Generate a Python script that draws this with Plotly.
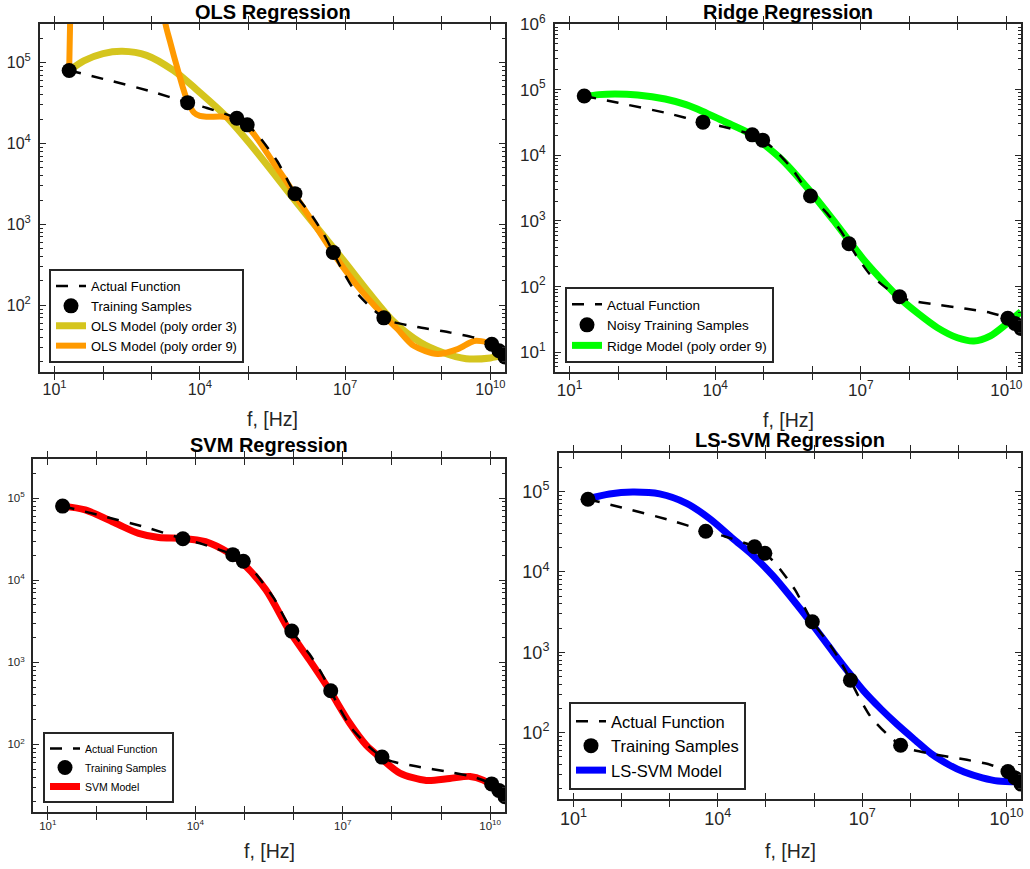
import math
import plotly.graph_objects as go

W, H = 1030, 869
FONT = "Liberation Sans, Arial, Helvetica, sans-serif"
INK = "#262626"

# ---- shared data: impedance magnitude vs frequency ----
sample_f = [20, 5.6e3, 5.8e4, 9.5e4, 9.2e5, 5.7e6, 6.3e7, 1.07e10, 1.5e10, 2.0e10]
sample_z = [8.0e4, 3.2e4, 2.05e4, 1.7e4, 2.4e3, 450, 70, 33, 27.5, 23]

actual_f = [20, 100, 1.0e3, 5.6e3, 1.4e4, 5.8e4, 9.5e4, 1.6e5, 4.0e5, 9.2e5, 2.1e6,
            3.6e6, 5.7e6, 8.1e6, 1.5e7, 3.4e7, 6.3e7, 1.0e8, 3.1e8, 1.5e9, 4.6e9,
            1.07e10, 1.5e10, 2.0e10]
actual_z = [8.0e4, 6.3e4, 4.4e4, 3.2e4, 2.75e4, 2.05e4, 1.7e4, 1.26e4, 6.0e3, 2.4e3,
            1.26e3, 760, 450, 295, 158, 94, 70, 62, 54, 46, 40, 33, 27.5, 23]

# ---- OLS, cubic polynomial ----
ols3_f = [20, 40, 100, 251, 794, 2.9e3, 1.05e4, 3.16e4, 1.0e5, 3.16e5, 1.0e6, 3.16e6,
          1.0e7, 3.16e7, 1.0e8, 3.6e8, 1.0e9, 3.16e9, 1.0e10, 2.0e10]
ols3_z = [7.94e4, 1.05e5, 1.29e5, 1.38e5, 1.23e5, 7.94e4, 4.17e4, 2.29e4, 1.05e4, 4.47e3,
          1.86e3, 794, 339, 141, 63, 34.7, 26.3, 21.9, 22.4, 24.5]

# ---- OLS, 9th order polynomial (leaves the axes near 20 Hz, re-enters near 2 kHz) ----
ols9_f = [20, 21.1, 21.9, None,
          1.32e3, 1.95e3, 2.4e3, 2.92e3, 3.55e3, 4.37e3, 5.5e3, 7.6e3, 1.0e4, 1.41e4,
          3.16e4, 5.9e4, 1.0e5, 1.58e5, 3.16e5, 6.3e5, 1.0e6, 2.7e6, 6.9e6, 1.78e7,
          5.5e7, 1.2e8, 2.6e8, 8.1e8, 2.1e9, 4.6e9, 8.7e9, 1.1e10, 2.0e10]
ols9_z = [7.94e4, 4.0e5, 1.0e7, None,
          1.58e6, 3.0e5, 1.86e5, 1.2e5, 7.94e4, 5.13e4, 3.39e4, 2.4e4, 2.19e4, 2.14e4,
          2.14e4, 1.95e4, 1.58e4, 1.12e4, 6.03e3, 3.31e3, 2.14e3, 871, 372, 174,
          81, 51, 31.6, 25.1, 28.8, 36.3, 34.7, 31.6, 22.9]

# ---- Ridge, 9th order polynomial ----
ridge_f = [20.4, 39.8, 87, 251, 933, 2.5e3, 5.4e3, 1.58e4, 4.9e4, 1.0e5, 2.4e5, 8.5e5,
           3.0e6, 1.15e7, 3.16e7, 6.0e7, 1.45e8, 3.76e8, 9.8e8, 2.14e9, 4.7e9, 8.9e9, 2.0e10]
ridge_z = [7.85e4, 8.4e4, 8.6e4, 8.3e4, 7.2e4, 5.9e4, 4.7e4, 3.24e4, 2.19e4, 1.48e4, 8.5e3,
           3.0e3, 933, 257, 112, 69, 39.8, 23.7, 16.6, 14.8, 17.8, 25.1, 41.7]

# ---- SVM ----
svm_f = [20.4, 57.5, 240, 708, 1.82e3, 5.25e3, 1.62e4, 4.9e4, 9.1e4, 2.75e5, 8.1e5, 2.1e6,
         5.4e6, 1.38e7, 3.0e7, 6.0e7, 1.45e8, 5.0e8, 1.5e9, 3.9e9, 7.2e9, 1.07e10, 2.0e10]
svm_z = [8.0e4, 7.2e4, 4.95e4, 3.72e4, 3.31e4, 3.24e4, 2.95e4, 2.14e4, 1.62e4, 7.6e3,
         2.45e3, 1.07e3, 457, 182, 98, 68, 44.7, 36.3, 38.5, 40.7, 36.7, 31.6, 21.9]

# ---- LS-SVM ----
lssvm_f = [20.4, 56, 170, 617, 2.24e3, 6.8e3, 2.09e4, 5.5e4, 1.41e5, 3.16e5, 9.1e5, 2.5e6,
           5.75e6, 1.07e7, 2.5e7, 5.4e7, 1.26e8, 2.7e8, 6.3e8, 1.32e9, 3.16e9, 6.6e9, 2.0e10]
lssvm_z = [8.1e4, 9.3e4, 9.8e4, 9.3e4, 7.1e4, 4.57e4, 2.57e4, 1.58e4, 8.9e3, 5.0e3, 2.24e3,
           1.0e3, 525, 331, 195, 126, 81, 55, 40, 32.4, 27.5, 25.1, 24.5]

x_decades = list(range(1, 11))
x_labeled = [1, 4, 7, 10]

fig = go.Figure()

# panel layout in pixels: (left, top, right, bottom); title / x-label offsets in pixels
panels = [
    dict(title="OLS Regression", box=(40, 24, 505, 372), ylim=(15, 3e5), tick=16, leg=13,
         legpos=(49, 363), title_dy=12, xlab_dy=47),
    dict(title="Ridge Regression", box=(555, 24, 1021, 372), ylim=(5, 1e6), tick=17, leg=13.5,
         legpos=(565, 363), title_dy=12, xlab_dy=48),
    dict(title="SVM Regression", box=(33, 459, 505, 812), ylim=(15, 3e5), tick=11.5, leg=10.5,
         legpos=(43, 803), title_dy=14, xlab_dy=39),
    dict(title="LS-SVM Regression", box=(559, 453, 1021, 799), ylim=(15, 3e5), tick=18, leg=16.5,
         legpos=(569, 790), title_dy=13, xlab_dy=52),
]

models = [
    [("OLS Model (poly order 3)", ols3_f, ols3_z, "#D5C51E", 7),
     ("OLS Model (poly order 9)", ols9_f, ols9_z, "#FF9A00", 6)],
    [("Ridge Model (poly order 9)", ridge_f, ridge_z, "#00FF00", 7)],
    [("SVM Model", svm_f, svm_z, "#FF0000", 7)],
    [("LS-SVM Model", lssvm_f, lssvm_z, "#0000FF", 7)],
]
sample_names = ["Training Samples", "Noisy Training Samples", "Training Samples", "Training Samples"]

layout = {}
annotations = []
for i, p in enumerate(panels):
    n = "" if i == 0 else str(i + 1)
    xa, ya = "x" + n, "y" + n
    ya_minor = "y" + str(i + 5)
    lg = "legend" + n
    l, t, r, b = p["box"]
    tick_font = dict(family=FONT, size=p["tick"], color=INK)
    common = dict(type="log", showline=True, linewidth=2, linecolor=INK, mirror="allticks",
                  ticks="inside", ticklen=6, tickwidth=1.2, tickcolor=INK, showgrid=False,
                  zeroline=False, tickfont=tick_font, fixedrange=True, automargin=False)
    layout["xaxis" + n] = dict(
        common, domain=[l / W, r / W], anchor=ya,
        range=[math.log10(5), math.log10(2e10)],
        tickmode="array", tickvals=[10 ** k for k in x_decades],
        ticktext=[f"10<sup>{k}</sup>" if k in x_labeled else "" for k in x_decades],
        ticklabelstandoff=2,
    )
    lo, hi = p["ylim"]
    yr = [math.log10(lo), math.log10(hi)]
    y_dec = list(range(math.ceil(yr[0]), math.floor(yr[1]) + 1))
    layout["yaxis" + n] = dict(
        common, domain=[1 - b / H, 1 - t / H], anchor=xa, range=yr,
        tickmode="array", tickvals=[10 ** k for k in y_dec],
        ticktext=[f"10<sup>{k}</sup>" for k in y_dec],
        ticklabelstandoff=4,
    )
    # short intermediate ticks (2..9 within each decade) on a twin axis
    minor_vals = [m * 10 ** k for k in range(0, 7) for m in range(2, 10)
                  if lo <= m * 10 ** k <= hi]
    layout["yaxis" + str(i + 5)] = dict(
        type="log", overlaying=ya, anchor=xa, side="left", range=yr,
        domain=[1 - b / H, 1 - t / H], showline=True, linewidth=2, linecolor=INK,
        mirror="ticks", ticks="inside", ticklen=3, tickwidth=1, tickcolor=INK,
        tickmode="array", tickvals=minor_vals, ticktext=[""] * len(minor_vals),
        showticklabels=False, showgrid=False, zeroline=False, fixedrange=True,
        automargin=False,
    )
    fig.add_trace(go.Scatter(x=[], y=[], xaxis=xa, yaxis=ya_minor, showlegend=False,
                             hoverinfo="skip"))

    lx, ly = p["legpos"]
    layout[lg] = dict(x=lx / W, y=1 - ly / H, xanchor="left", yanchor="bottom",
                      bgcolor="white", bordercolor=INK, borderwidth=2,
                      font=dict(family=FONT, size=p["leg"], color="black"),
                      tracegroupgap=0, itemwidth=30)

    # models first, then the reference curve, then the samples on top
    for j, (name, fx, fz, col, lw) in enumerate(models[i]):
        fig.add_trace(go.Scatter(x=fx, y=fz, mode="lines", name=name, xaxis=xa, yaxis=ya,
                                 legend=lg, legendrank=3 + j, connectgaps=False,
                                 line=dict(color=col, width=lw, shape="spline", smoothing=0.8)))
    fig.add_trace(go.Scatter(x=actual_f, y=actual_z, mode="lines", name="Actual Function",
                             xaxis=xa, yaxis=ya, legend=lg, legendrank=1,
                             line=dict(color="black", width=2.5, dash="12px,11px",
                                       shape="spline", smoothing=0.6)))
    fig.add_trace(go.Scatter(x=sample_f, y=sample_z, mode="markers", name=sample_names[i],
                             xaxis=xa, yaxis=ya, legend=lg, legendrank=2,
                             marker=dict(color="black", size=15, line=dict(width=0))))

    cx = (l + r) / 2
    annotations.append(dict(text=f"<b>{p['title']}</b>", x=cx / W, y=1 - (t - p["title_dy"]) / H,
                            xref="paper", yref="paper", showarrow=False, xanchor="center",
                            yanchor="middle", font=dict(family=FONT, size=20, color="black")))
    annotations.append(dict(text="f, [Hz]", x=cx / W, y=1 - (b + p["xlab_dy"]) / H,
                            xref="paper", yref="paper", showarrow=False, xanchor="center",
                            yanchor="middle", font=dict(family=FONT, size=19.5, color=INK)))

fig.update_layout(width=W, height=H, margin=dict(l=0, r=0, t=0, b=0, autoexpand=False),
                  paper_bgcolor="white", plot_bgcolor="white", annotations=annotations,
                  **layout)

fig.write_html("out.html")
